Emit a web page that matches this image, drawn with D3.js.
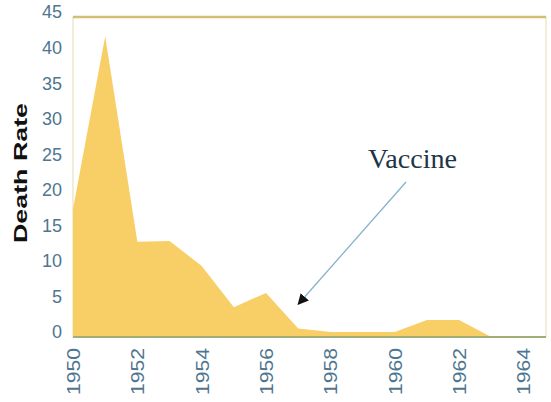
<!DOCTYPE html>
<html>
<head>
<meta charset="utf-8">
<script src="https://cdn.jsdelivr.net/npm/d3@7"></script>
<style>
  body { margin: 0; background: #fff; }
  svg { display: block; }
</style>
</head>
<body>
<div id="chart"></div>
<script>
// polio death rate
const years = [1950, 1951, 1952, 1953, 1954, 1955, 1956, 1957, 1958, 1959, 1960, 1961, 1962, 1963, 1964];
const deathRate = [18, 42.3, 13.4, 13.5, 10, 4.2, 6.2, 1.2, 0.7, 0.7, 0.7, 2.4, 2.4, 0, 0];
const yTicks = [0, 5, 10, 15, 20, 25, 30, 35, 40, 45];
const xTicks = [1950, 1952, 1954, 1956, 1958, 1960, 1962, 1964];
const annotation = { label: "Vaccine", year: 1957, value: 4.6 };

const width = 551, height = 402;
const plotL = 73, plotR = 546, plotT = 17, plotB = 337;

const svg = d3.select("#chart").append("svg")
  .attr("width", width)
  .attr("height", height);

const x = d3.scaleLinear().domain([1950, 1964.7]).range([plotL, plotR]);
const y = d3.scaleLinear().domain([0, 45]).range([plotB, plotT]);

const data = years.map((yr, i) => ({ year: yr, value: deathRate[i] }));

// plot frame
svg.append("rect")
  .attr("x", plotL).attr("y", plotT)
  .attr("width", plotR - plotL).attr("height", plotB - plotT)
  .attr("fill", "none")
  .attr("stroke", "#e6dcb0")
  .attr("stroke-width", 1);
svg.append("line")
  .attr("x1", plotL).attr("x2", plotR)
  .attr("y1", plotT).attr("y2", plotT)
  .attr("stroke", "#d2bf72")
  .attr("stroke-width", 2.5);

// area
svg.append("path")
  .datum(data)
  .attr("fill", "#f8cf67")
  .attr("d", d3.area()
    .x(d => x(d.year))
    .y0(y(0))
    .y1(d => y(d.value)));

// bottom axis line
svg.append("line")
  .attr("x1", plotL).attr("x2", plotR)
  .attr("y1", plotB).attr("y2", plotB)
  .attr("stroke", "#a3ad78")
  .attr("stroke-width", 2);

// y axis
const yAxis = svg.append("g")
  .attr("transform", `translate(${plotL},0)`)
  .call(d3.axisLeft(y).tickValues(yTicks).tickSize(0).tickPadding(11));
yAxis.select(".domain").remove();
yAxis.selectAll("text")
  .attr("dy", "0.05em")
  .attr("fill", "#4e7690")
  .style("font-family", "'Liberation Sans', Arial, sans-serif")
  .style("font-size", "18px");

// x axis, labels turned upright
const xAxis = svg.append("g")
  .attr("transform", `translate(0,${plotB})`)
  .call(d3.axisBottom(x).tickValues(xTicks).tickFormat(d3.format("d")).tickSize(0));
xAxis.select(".domain").remove();
xAxis.selectAll("text")
  .attr("transform", "rotate(-90)")
  .attr("x", -11)
  .attr("y", 0)
  .attr("dy", "0.35em")
  .attr("text-anchor", "end")
  .attr("textLength", 47)
  .attr("lengthAdjust", "spacingAndGlyphs")
  .attr("fill", "#4e7690")
  .style("font-family", "'Liberation Sans', Arial, sans-serif")
  .style("font-size", "18px");

// y title
svg.append("text")
  .attr("transform", "translate(27,173) rotate(-90)")
  .attr("text-anchor", "middle")
  .attr("textLength", 140)
  .attr("lengthAdjust", "spacingAndGlyphs")
  .attr("fill", "#111")
  .style("font-family", "'Liberation Sans', Arial, sans-serif")
  .style("font-weight", "bold")
  .style("font-size", "19px")
  .text("Death Rate");

// annotation
svg.append("defs").append("marker")
  .attr("id", "head")
  .attr("viewBox", "0 0 10 10")
  .attr("refX", 9).attr("refY", 5)
  .attr("markerWidth", 11).attr("markerHeight", 11)
  .attr("markerUnits", "userSpaceOnUse")
  .attr("orient", "auto")
  .append("path")
  .attr("d", "M0,0L10,5L0,10Z")
  .attr("fill", "#111");

svg.append("line")
  .attr("x1", 406).attr("y1", 182)
  .attr("x2", x(annotation.year)).attr("y2", y(annotation.value))
  .attr("stroke", "#86b2cc")
  .attr("stroke-width", 1.3)
  .attr("marker-end", "url(#head)");

svg.append("text")
  .attr("x", 368).attr("y", 168)
  .attr("textLength", 89)
  .attr("lengthAdjust", "spacingAndGlyphs")
  .attr("fill", "#1d3646")
  .style("font-family", "'Liberation Serif', 'Times New Roman', serif")
  .style("font-size", "27px")
  .text(annotation.label);
</script>
</body>
</html>
